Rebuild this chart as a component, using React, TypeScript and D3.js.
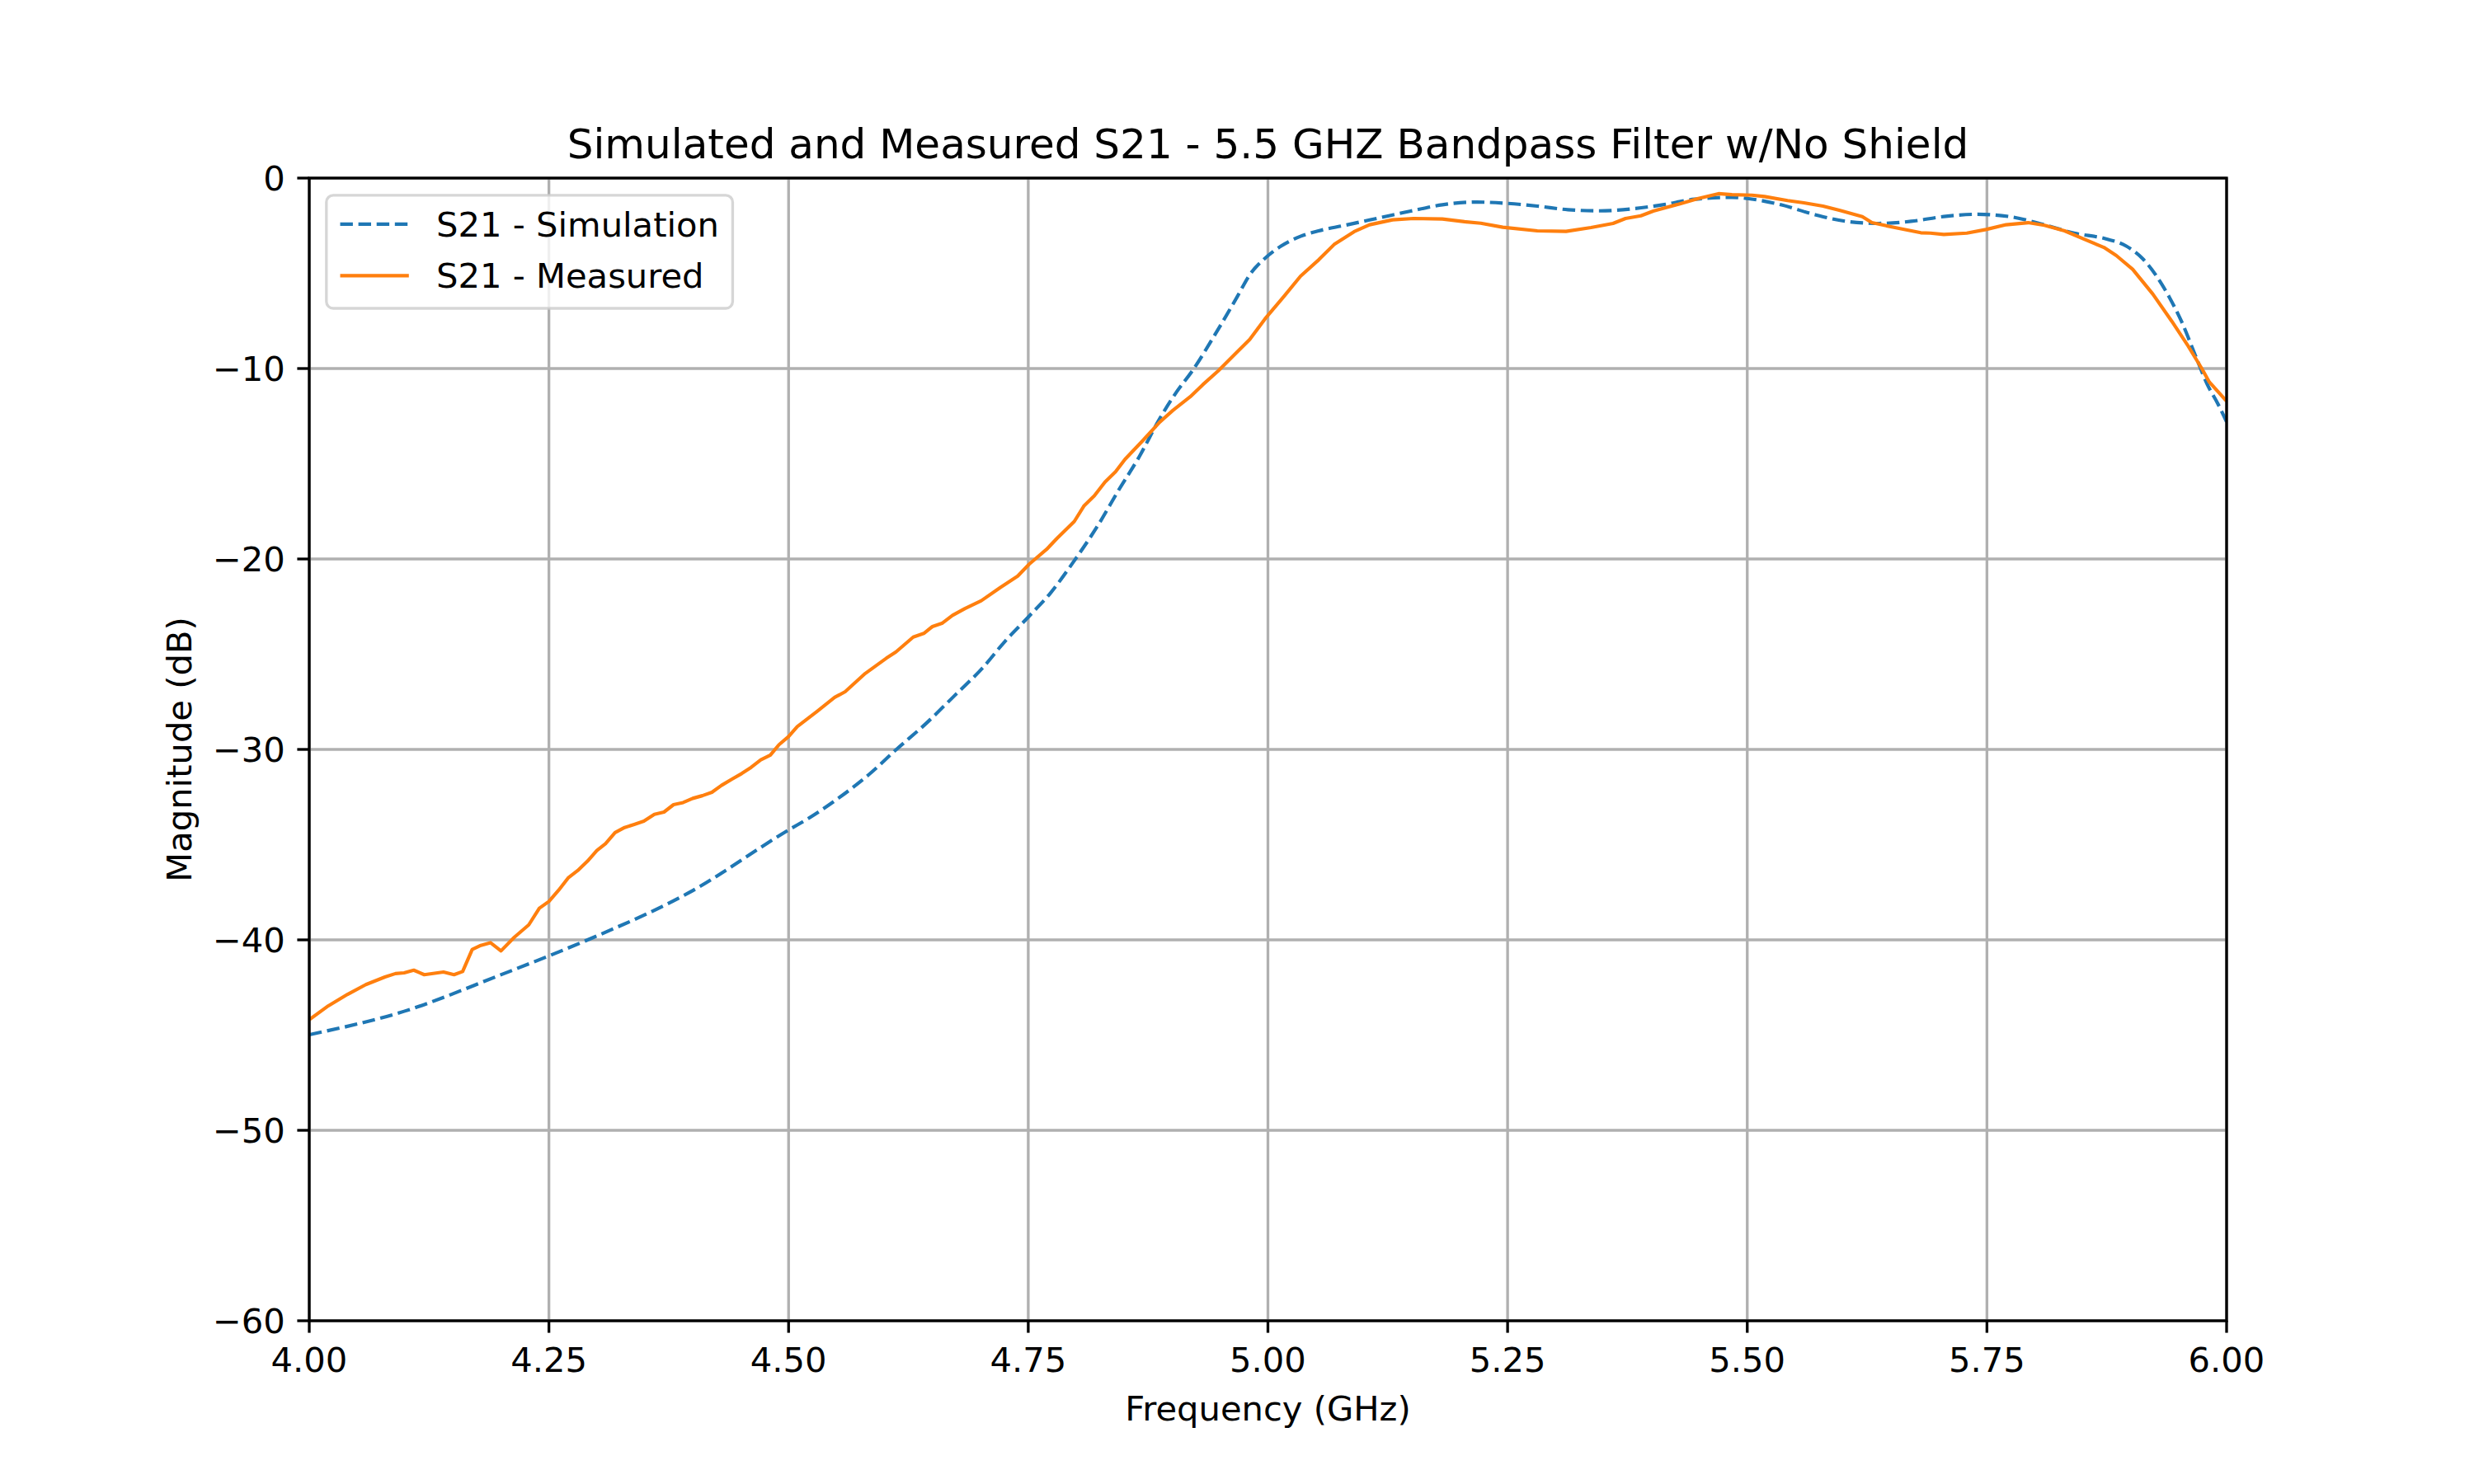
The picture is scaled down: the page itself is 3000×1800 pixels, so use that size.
import React from 'react';
import * as d3 from 'd3';

// simulated S21
const simFreq = [
  4.0, 4.099, 4.198, 4.25, 4.296, 4.395, 4.5, 4.523, 4.552, 4.584, 4.612, 4.644, 4.673, 4.702,
  4.726, 4.75, 4.773, 4.798, 4.823, 4.844, 4.866, 4.887, 4.905, 4.921, 4.945, 4.968, 4.981, 4.997,
  5.014, 5.034, 5.053, 5.083, 5.116, 5.149, 5.182, 5.218, 5.25, 5.281, 5.313, 5.346, 5.379, 5.412,
  5.445, 5.484, 5.5, 5.535, 5.569, 5.603, 5.637, 5.671, 5.705, 5.739, 5.773, 5.807, 5.841, 5.875,
  5.895, 5.912, 5.926, 5.94, 5.953, 5.967, 5.98, 5.991, 6.0,
];
const simDb = [
  -44.98, -43.75, -41.87, -40.84, -39.88, -37.55, -34.23, -33.55, -32.56, -31.31, -30.02, -28.61,
  -27.18, -25.74, -24.31, -23.05, -21.8, -20.09, -18.21, -16.41, -14.61, -12.64, -11.21, -10.13,
  -8.2, -6.23, -5.08, -4.21, -3.56, -3.06, -2.77, -2.45, -2.09, -1.73, -1.4, -1.26, -1.33, -1.47,
  -1.66, -1.72, -1.62, -1.4, -1.11, -1.01, -1.07, -1.4, -1.9, -2.27, -2.38, -2.27, -2.02, -1.9,
  -2.02, -2.41, -2.89, -3.2, -3.56, -4.21, -5.08, -6.23, -7.53, -9.26, -10.85, -11.86, -12.8,
];

// measured S21 (solid curve)
const measFreq = [
  4.0, 4.02, 4.04, 4.059, 4.079, 4.09, 4.099, 4.109, 4.12, 4.14, 4.151, 4.16, 4.17, 4.179, 4.189,
  4.2, 4.214, 4.229, 4.24, 4.25, 4.26, 4.27, 4.28, 4.29, 4.3, 4.309, 4.319, 4.329, 4.339, 4.349,
  4.36, 4.37, 4.38, 4.39, 4.4, 4.41, 4.42, 4.43, 4.441, 4.451, 4.461, 4.471, 4.481, 4.49, 4.5,
  4.509, 4.53, 4.548, 4.559, 4.58, 4.602, 4.612, 4.63, 4.641, 4.65, 4.66, 4.671, 4.684, 4.701,
  4.721, 4.739, 4.751, 4.769, 4.78, 4.798, 4.808, 4.819, 4.83, 4.841, 4.851, 4.869, 4.887, 4.901,
  4.919, 4.932, 4.948, 4.968, 4.981, 4.997, 5.017, 5.034, 5.053, 5.069, 5.09, 5.106, 5.13, 5.152,
  5.182, 5.205, 5.222, 5.245, 5.281, 5.311, 5.337, 5.36, 5.373, 5.389, 5.402, 5.429, 5.449, 5.47,
  5.484, 5.505, 5.518, 5.542, 5.559, 5.579, 5.596, 5.62, 5.63, 5.654, 5.681, 5.691, 5.705, 5.729,
  5.749, 5.77, 5.793, 5.81, 5.831, 5.851, 5.872, 5.885, 5.902, 5.923, 5.943, 5.96, 5.974, 5.982, 6.0,
];
const measDb = [
  -44.19, -43.46, -42.86, -42.35, -41.95, -41.77, -41.73, -41.59, -41.83, -41.69, -41.83, -41.66,
  -40.5, -40.29, -40.15, -40.58, -39.86, -39.21, -38.34, -37.98, -37.4, -36.75, -36.36, -35.88,
  -35.31, -34.95, -34.37, -34.1, -33.94, -33.77, -33.41, -33.29, -32.9, -32.79, -32.57, -32.43,
  -32.25, -31.89, -31.56, -31.27, -30.94, -30.55, -30.3, -29.75, -29.32, -28.8, -27.99, -27.27,
  -26.97, -26.01, -25.21, -24.88, -24.1, -23.91, -23.55, -23.38, -22.96, -22.6, -22.19, -21.49,
  -20.9, -20.27, -19.5, -18.92, -18.03, -17.22, -16.68, -15.96, -15.42, -14.76, -13.81, -12.82,
  -12.19, -11.48, -10.85, -10.13, -9.12, -8.47, -7.39, -6.2, -5.15, -4.29, -3.49, -2.81, -2.45,
  -2.19, -2.12, -2.15, -2.29, -2.37, -2.58, -2.77, -2.8, -2.6, -2.38, -2.12, -1.98, -1.73, -1.36,
  -1.07, -0.82, -0.87, -0.9, -0.97, -1.18, -1.3, -1.47, -1.69, -2.02, -2.34, -2.6, -2.87, -2.89,
  -2.96, -2.89, -2.7, -2.45, -2.34, -2.48, -2.77, -3.2, -3.64, -4.07, -4.79, -6.09, -7.53, -8.83,
  -9.99, -10.71, -11.72,
];

const xTicks = [4.0, 4.25, 4.5, 4.75, 5.0, 5.25, 5.5, 5.75, 6.0];
const yTicks = [0, -10, -20, -30, -40, -50, -60];
const seriesNames = ['S21 - Simulation', 'S21 - Measured'];
const seriesColors = ['#1f77b4', '#ff7f0e'];

const W = 3000;
const H = 1800;
const left = 375, right = 2700, top = 216, bottom = 1602;
const font = '"DejaVu Sans", sans-serif';
const tickSize = 41.67;
const lw = 4.17; // 1pt @ 300dpi
const dash = '15.4,6.7';
const thin = 3.33; // 0.8pt

const App: React.FC = () => {
  const x = d3.scaleLinear().domain([4, 6]).range([left, right]);
  const y = d3.scaleLinear().domain([-60, 0]).range([bottom, top]);

  const simPts: [number, number][] = simFreq.map((f, i) => [f, simDb[i]]);
  const measPts: [number, number][] = measFreq.map((f, i) => [f, measDb[i]]);

  const simLine = d3.line<[number, number]>()
    .x(d => x(d[0]))
    .y(d => y(d[1]))
    .curve(d3.curveMonotoneX);
  const measLine = d3.line<[number, number]>()
    .x(d => x(d[0]))
    .y(d => y(d[1]));

  const fmtX = d3.format('.2f');
  const fmtY = (v: number) => (v < 0 ? '\u2212' + Math.abs(v) : String(v));

  // legend geometry (matplotlib 'upper left')
  const lgX = left + 20.8, lgY = top + 20.8;
  const lgW = 492.6, lgH = 137.2;
  const rows = [lgY + 35, lgY + 97.5];

  return (
    <svg width={W} height={H} style={{ position: 'absolute', left: 0, top: 0, background: '#fff' }}
      fontFamily={font}>
      <defs>
        <clipPath id="plotArea">
          <rect x={left} y={top} width={right - left} height={bottom - top} />
        </clipPath>
      </defs>
      <rect x={0} y={0} width={W} height={H} fill="#fff" />

      {/* grid */}
      <g stroke="#b0b0b0" strokeWidth={thin}>
        {xTicks.map(t => (
          <line key={'gx' + t} x1={x(t)} x2={x(t)} y1={top} y2={bottom} />
        ))}
        {yTicks.map(t => (
          <line key={'gy' + t} x1={left} x2={right} y1={y(t)} y2={y(t)} />
        ))}
      </g>

      {/* curves */}
      <g clipPath="url(#plotArea)" fill="none" strokeWidth={lw}>
        <path d={simLine(simPts) || ''} stroke={seriesColors[0]} strokeDasharray={dash} />
        <path d={measLine(measPts) || ''} stroke={seriesColors[1]} strokeLinejoin="round" />
      </g>

      {/* spines */}
      <rect x={left} y={top} width={right - left} height={bottom - top} fill="none"
        stroke="#000" strokeWidth={thin} />

      {/* x ticks */}
      <g>
        {xTicks.map(t => (
          <g key={'xt' + t}>
            <line x1={x(t)} x2={x(t)} y1={bottom} y2={bottom + 14.6} stroke="#000" strokeWidth={thin} />
            <text x={x(t)} y={1664} fontSize={tickSize} textAnchor="middle" fill="#000">{fmtX(t)}</text>
          </g>
        ))}
      </g>

      {/* y ticks */}
      <g>
        {yTicks.map(t => (
          <g key={'yt' + t}>
            <line x1={left - 14.6} x2={left} y1={y(t)} y2={y(t)} stroke="#000" strokeWidth={thin} />
            <text x={left - 29.2} y={y(t) + 15} fontSize={tickSize} textAnchor="end" fill="#000">{fmtY(t)}</text>
          </g>
        ))}
      </g>

      {/* labels */}
      <text x={(left + right) / 2} y={1723} fontSize={tickSize} textAnchor="middle" fill="#000">
        Frequency (GHz)
      </text>
      <text transform={`translate(232, ${(top + bottom) / 2}) rotate(-90)`} fontSize={tickSize}
        textAnchor="middle" fill="#000">
        Magnitude (dB)
      </text>
      <text x={(left + right) / 2} y={191.5} fontSize={50} textAnchor="middle" fill="#000">
        Simulated and Measured S21 - 5.5 GHZ Bandpass Filter w/No Shield
      </text>

      {/* legend */}
      <g>
        <rect x={lgX} y={lgY} width={lgW} height={lgH} rx={8.3} ry={8.3}
          fill="#fff" fillOpacity={0.8} stroke="#cccccc" strokeOpacity={0.8} strokeWidth={thin} />
        {seriesNames.map((name, i) => (
          <g key={name}>
            <line x1={lgX + 16.7} x2={lgX + 16.7 + 83.3} y1={rows[i]} y2={rows[i]}
              stroke={seriesColors[i]} strokeWidth={lw}
              strokeDasharray={i === 0 ? dash : undefined} />
            <text x={lgX + 133.3} y={rows[i] + 15} fontSize={tickSize} fill="#000">{name}</text>
          </g>
        ))}
      </g>
    </svg>
  );
};

export default App;
